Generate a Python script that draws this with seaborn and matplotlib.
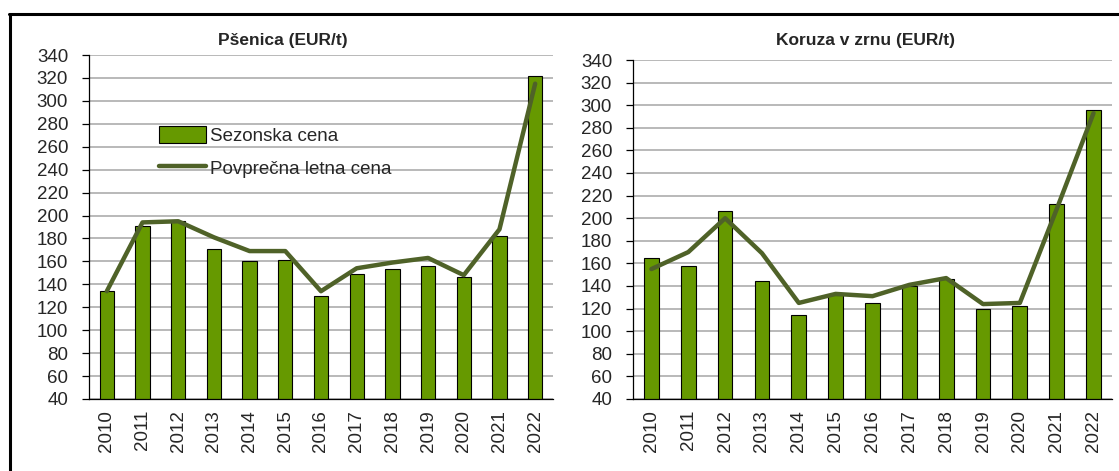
import numpy as np
import pandas as pd
import matplotlib
matplotlib.use("Agg")
import matplotlib.pyplot as plt
import seaborn as sns
from matplotlib.lines import Line2D
from matplotlib.patches import Patch

years = [str(y) for y in range(2010, 2023)]

# Pšenica (EUR/t)
wheat_season = [134, 191, 195, 171, 160, 161, 130, 149, 153, 156, 146, 182, 322]
wheat_avg = [134, 194, 195, 181, 169, 169, 134, 154, 159, 163, 148, 188, 315]

# Koruza v zrnu (EUR/t)
maize_season = [165, 158, 206, 144, 114, 132, 125, 140, 146, 120, 122, 213, 296]
maize_avg = [155, 170, 200, 169, 125, 133, 131, 141, 147, 124, 125, 208, 293]

BAR = "#669900"
LINE = "#4F6228"

sns.set_theme(style="white")
plt.rcParams['font.family'] = ['Liberation Sans', 'DejaVu Sans']

fig = plt.figure(figsize=(11.19, 4.71), dpi=100)

# outer frame (top and left edges visible)
fig.add_artist(Line2D([0.008, 1.0], [0.971, 0.971], color="black", lw=2.2, transform=fig.transFigure))
fig.add_artist(Line2D([0.009, 0.009], [0.0, 0.971], color="black", lw=2.2, transform=fig.transFigure))

ax1 = fig.add_axes([0.0795, 0.1529, 0.4147, 0.7303])
ax2 = fig.add_axes([0.5657, 0.1529, 0.4280, 0.7197])


def draw(ax, season, avg):
    df = pd.DataFrame({"year": years, "season": season, "avg": avg})
    sns.barplot(data=df, x="year", y="season", color=BAR, width=0.4,
                edgecolor="black", linewidth=0.8, saturation=1, ax=ax, zorder=2)
    sns.lineplot(x=np.arange(len(years)), y=df["avg"], color=LINE, lw=3.2,
                 ax=ax, zorder=3)
    ax.set_ylim(40, 340)
    ax.set_xlim(-0.5, len(years) - 0.5)
    ax.set_yticks(np.arange(40, 341, 20))
    ax.yaxis.grid(True, color="#A6A6A6", lw=1.1, zorder=0)
    ax.set_axisbelow(True)
    for s in ["top", "right"]:
        ax.spines[s].set_visible(False)
    for s in ["left", "bottom"]:
        ax.spines[s].set_color("black")
        ax.spines[s].set_linewidth(0.9)
    ax.set_xticks(np.arange(len(years)))
    ax.set_xticklabels(years, rotation=90)
    ax.set_xticks(np.arange(-0.5, len(years)), minor=True)
    ax.tick_params(axis="x", which="major", length=0, pad=8, labelsize=13.5)
    ax.tick_params(axis="x", which="minor", length=5, width=0.9, color="black", direction="out")
    ax.tick_params(axis="y", length=5, width=0.9, color="black", direction="out",
                   labelsize=13.5, pad=10, left=True)
    ax.set_xlabel("")
    ax.set_ylabel("")


draw(ax1, wheat_season, wheat_avg)
draw(ax2, maize_season, maize_avg)

fig.text(283 / 1119, 1 - 41 / 471, "Pšenica (EUR/t)", ha="center", va="center",
         fontsize=12.5, fontweight="bold")
fig.text(866 / 1119, 1 - 41 / 471, "Koruza v zrnu (EUR/t)", ha="center", va="center",
         fontsize=12.5, fontweight="bold")

handles = [Patch(facecolor=BAR, edgecolor="black", lw=0.8, label="Sezonska cena"),
           Line2D([0], [0], color=LINE, lw=3.2, label="Povprečna letna cena")]
ax1.legend(handles=handles, loc="upper left", bbox_to_anchor=(0.135, 0.815),
           frameon=False, fontsize=13.5, handlelength=2.5, handleheight=1.0,
           handletextpad=0.2, labelspacing=0.75, borderaxespad=0)

fig.savefig("out.png", dpi=100)
